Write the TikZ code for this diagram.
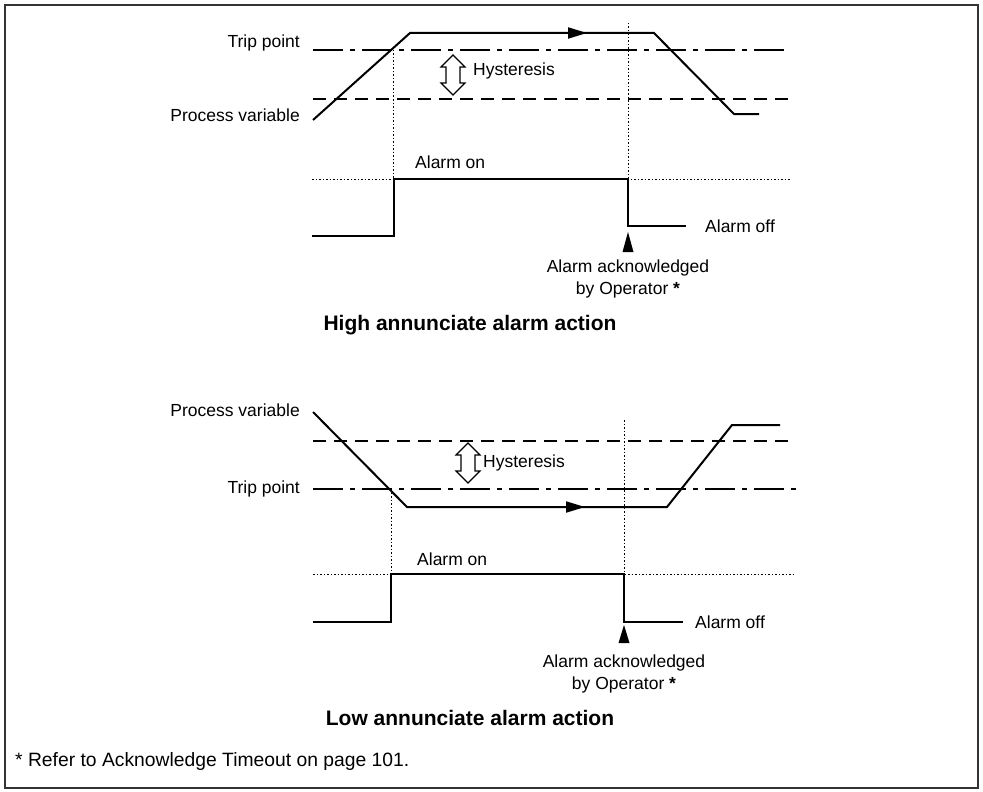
\documentclass[tikz,border=0pt]{standalone}
\usepackage{fontspec}
\setmainfont{Liberation Sans}
\usetikzlibrary{arrows.meta}
\newcommand\hysarrow[4]{% name, x, ytop, ybot
  \draw[hyst] (#2,#3) coordinate (#1) -- ++(12,12) -- ++(-5,0) -- (#2+7,#4-12) -- ++(5,0) -- (#2,#4) -- ++(-12,-12) -- ++(5,0) -- (#2-7,#3+12) -- ++(-5,0) -- cycle;}
\begin{document}
\begin{tikzpicture}[x=1pt,y=-1pt,
  lbl/.style={font=\fontsize{17.5}{21}\selectfont, inner sep=0pt},
  ttl/.style={font=\fontsize{21}{25}\selectfont\bfseries, inner sep=0pt},
  fnote/.style={font=\fontsize{19.3}{23}\selectfont, inner sep=0pt},
  pv/.style={line width=2pt, line join=miter},
  alarm/.style={line width=2pt},
  tripline/.style={line width=1.3pt, dash pattern=on 30pt off 7pt on 5pt off 7pt},
  hystline/.style={line width=1.3pt, dash pattern=on 13pt off 8pt},
  guide/.style={line width=0.9pt, dash pattern=on 1.5pt off 2pt},
  hyst/.style={draw, line width=1.2pt, fill=white, line join=miter},
  tip/.style={-{Triangle[length=19pt,width=11pt]}}
]
\useasboundingbox (0,0) rectangle (983,792);
\draw[line width=1.5pt, black!80] (5,5) rectangle (978,788);

% ---------- High annunciate ----------
\draw[tripline] (313,50) -- (787,50);
\draw[hystline] (313,99) -- (791,99);
\draw[guide] (393.5,50) -- (393.5,179);
\draw[guide] (628,23) -- (628,179);
\draw[guide] (312,179) -- (790,179);
\draw[pv] (313,120) coordinate (a0) -- (410,33) coordinate (a1) -- (654,33) coordinate (a2) -- (734,114) coordinate (a3) -- (759,114) coordinate (a4);
\draw[pv, tip] (a1) -- (587,33);
\hysarrow{h1}{453}{55}{95}
\draw[alarm] (312,236) -- (393.5,236) -- (393.5,179) -- (628,179) -- (628,226) -- (686,226);
\fill (628,232) -- (622.5,252) -- (633.5,252) -- cycle;

\node[lbl, anchor=east] (tp1) at (300,43) {Trip point};
\node[lbl, anchor=east] (pv1) at (300,115) {Process variable};
\node[lbl, anchor=west] (hy1) at (473,71) {Hysteresis};
\node[lbl, anchor=west] (on1) at (415,162) {Alarm on};
\node[lbl, anchor=west] (off1) at (705,226) {Alarm off};
\node[lbl] (ack1a) at (628,268) {Alarm acknowledged};
\node[lbl] (ack1b) at (628,290) {by Operator \textbf{*}};
\node[ttl] (t1) at (470,325) {High annunciate alarm action};

% ---------- Low annunciate ----------
\draw[hystline] (313,441) -- (793,441);
\draw[tripline] (313,489) -- (797,489);
\draw[guide] (391,489) -- (391,574);
\draw[guide] (624,420) -- (624,574);
\draw[guide] (313,574) -- (795,574);
\draw[pv] (313,412) coordinate (b0) -- (407,507) coordinate (b1) -- (667,507) coordinate (b2) -- (732,425) coordinate (b3) -- (780,425) coordinate (b4);
\draw[pv, tip] (b1) -- (585,507);
\hysarrow{h2}{468}{443}{483}
\draw[alarm] (313,622) -- (391,622) -- (391,574) -- (624,574) -- (624,622) -- (683,622);
\fill (624,625) -- (618.5,643) -- (629.5,643) -- cycle;

\node[lbl, anchor=east] (pv2) at (300,410) {Process variable};
\node[lbl, anchor=east] (tp2) at (300,489) {Trip point};
\node[lbl, anchor=west] (hy2) at (483,463) {Hysteresis};
\node[lbl, anchor=west] (on2) at (417,559) {Alarm on};
\node[lbl, anchor=west] (off2) at (695,622) {Alarm off};
\node[lbl] (ack2a) at (624,663) {Alarm acknowledged};
\node[lbl] (ack2b) at (624,685) {by Operator \textbf{*}};
\node[ttl] (t2) at (470,718) {Low annunciate alarm action};

\node[fnote, anchor=west] (fn) at (15,762) {* Refer to Acknowledge Timeout on page 101.};
\end{tikzpicture}
\end{document}
